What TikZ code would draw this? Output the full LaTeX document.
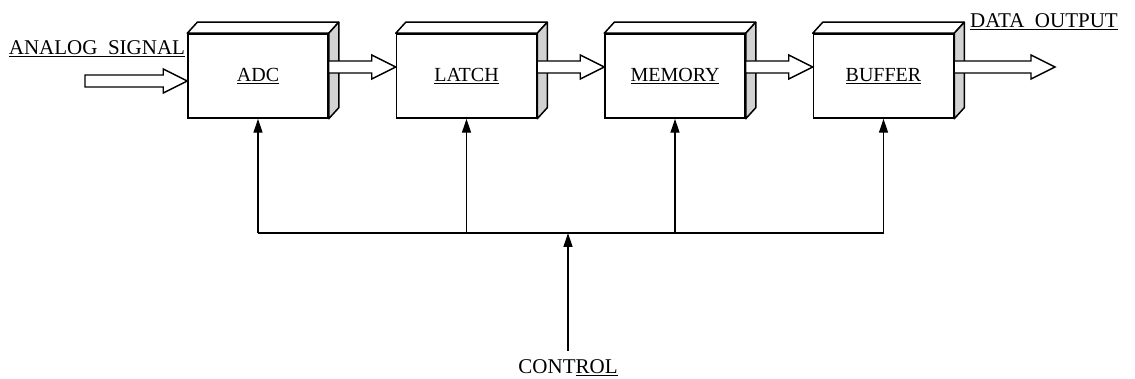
\documentclass[tikz,border=0pt]{standalone}
\usepackage{fontspec}
\setmainfont{Liberation Serif}
\usepackage{tikz}
\usetikzlibrary{arrows.meta,positioning,calc}

% hollow block arrow from point #1 to tip x of point #2
\newcommand{\fatarrow}[2]{%
  \draw[fat] let \p1=#1, \p2=#2 in
    (\x1,\y1+6pt) -- (\x2-24pt,\y1+6pt) -- (\x2-24pt,\y1+12pt) -- (\x2,\y1)
    -- (\x2-24pt,\y1-12pt) -- (\x2-24pt,\y1-6pt) -- (\x1,\y1-6pt) -- cycle;}

\begin{document}
\begin{tikzpicture}[
    x=1pt, y=1pt,
    node distance=67pt,
    block/.style={rectangle, draw, line width=1.5pt, fill=white, minimum width=140pt, minimum height=84pt, font=\fontsize{20}{24}\selectfont},
    face/.style={line width=1.5pt, line join=round},
    fat/.style={line width=1.4pt, fill=white, line join=miter},
    ctl/.style={line width=1.3pt, -{Triangle[length=14pt,width=9pt]}},
    lbl/.style={font=\fontsize{21}{25}\selectfont, inner sep=2pt}
]
    \useasboundingbox (0,0) rectangle (1135,379);

    \node[block] (adc) at (258,303) {\underline{ADC}};
    \node[block, right=of adc] (latch) {\underline{LATCH}};
    \node[block, right=of latch] (memory) {\underline{MEMORY}};
    \node[block, right=of memory] (buffer) {\underline{BUFFER}};

    % depth of the boxes
    \foreach \b in {adc,latch,memory,buffer}{
        \draw[face, fill=white] (\b.north west) -- ++(10,11) -- ($(\b.north east)+(10,11)$) -- (\b.north east) -- cycle;
        \draw[face, fill=gray!35] (\b.north east) -- ++(10,11) -- ($(\b.south east)+(10,11)$) -- (\b.south east) -- cycle;
    }

    \node[lbl] (ain) at (97,330) {\underline{ANALOG\ \ SIGNAL}};
    \node[lbl] (dout) at (1044,357) {\underline{DATA\ \ OUTPUT}};
    \node[lbl] (ctrl) at (568,11) {CONT\underline{ROL}};

    \coordinate (src) at (85,298);
    \coordinate (sink) at (1055,312);
    \coordinate (bus) at (568,146);

    \fatarrow{(src)}{(adc.west)}
    \fatarrow{([yshift=9pt]adc.east)}{(latch.west)}
    \fatarrow{([yshift=9pt]latch.east)}{(memory.west)}
    \fatarrow{([yshift=9pt]memory.east)}{(buffer.west)}
    \fatarrow{([yshift=9pt]buffer.east)}{(sink)}

    \draw[line width=1.3pt] (adc.south |- bus) -- (buffer.south |- bus);
    \draw[ctl] (adc.south |- bus) -- (adc.south);
    \draw[ctl] (latch.south |- bus) -- (latch.south);
    \draw[ctl] (memory.south |- bus) -- (memory.south);
    \draw[ctl] (buffer.south |- bus) -- (buffer.south);
    \draw[ctl] ([yshift=7pt]ctrl.north) -- (bus);
\end{tikzpicture}
\end{document}
